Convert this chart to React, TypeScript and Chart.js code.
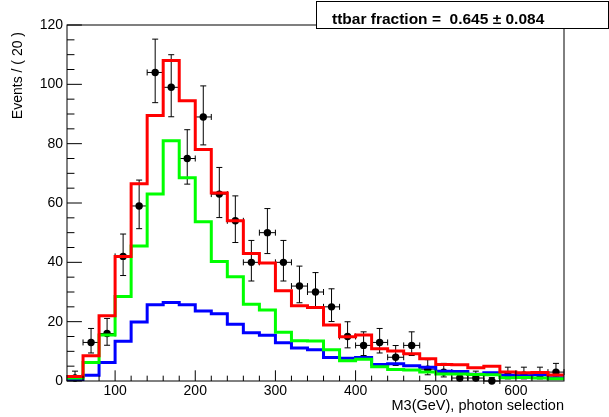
import React, { useEffect, useRef } from 'react';
import { Chart, registerables } from 'chart.js';

Chart.register(...registerables);

// ---- data ----
const X_MIN = 40;
const X_MAX = 660;
const BIN_WIDTH = 20;
const BIN_CENTERS = [50, 70, 90, 110, 130, 150, 170, 190, 210, 230, 250, 270, 290, 310, 330, 350, 370, 390, 410, 430, 450, 470, 490, 510, 530, 550, 570, 590, 610, 630, 650];
const TOTAL = [1.5, 8.5, 22, 42, 66.5, 89.5, 108, 94.5, 78, 63.4, 54, 43, 39.8, 30.4, 25.4, 24.8, 18.9, 14.9, 15.5, 10.9, 10.1, 9.2, 7.5, 5.6, 5.5, 4.5, 5.0, 3.0, 2.8, 2.9, 2.0];
const TTBAR = [1.0, 6.2, 15.5, 28.5, 45.5, 63, 81, 68.5, 53.7, 40.3, 35.1, 25.9, 23.9, 16.4, 13.6, 13.5, 10.5, 6.8, 7.3, 4.8, 3.9, 3.7, 3.0, 2.4, 2.4, 2.2, 2.1, 1.1, 1.2, 1.0, 0.8];
const BKG = [0.4, 1.9, 6.2, 13.4, 19.9, 25.7, 26.5, 25.7, 23.6, 22.7, 19.1, 16.3, 15.4, 12.9, 11.1, 10.5, 7.9, 7.7, 7.9, 5.6, 5.8, 5.1, 4.6, 3.3, 3.2, 2.3, 2.8, 1.9, 1.8, 2.1, 1.1];
const DATA = [1, 13, 16, 42, 59, 104, 99, 75, 89, 63, 54, 40, 50, 40, 32, 30, 25, 15, 12, 13, 8, 12, 4, 3, 1, 1, 0, 2, 2, 2, 3];
const X_TICKS = [100, 200, 300, 400, 500, 600];
const Y_TICKS = [0, 20, 40, 60, 80, 100, 120];
const Y_MIN = 0;
const Y_MAX = 120;
const X_TITLE = 'M3(GeV), photon selection';
const Y_TITLE = 'Events / ( 20 )';
const FIT_LABEL = 'ttbar fraction =  0.645 \u00b1 0.084';

const FONT = "'Liberation Sans', Arial, Helvetica, sans-serif";

function poissonInterval(n: number): [number, number] {
  if (n <= 0) return [0, 1.15];
  const lo = n * Math.pow(1 - 1 / (9 * n) - 1 / (3 * Math.sqrt(n)), 3);
  const hi = n + 1 + Math.sqrt(n + 0.75);
  return [lo, hi];
}

function steps(vals: number[]) {
  const pts = vals.map((v, i) => ({ x: BIN_CENTERS[i] - BIN_WIDTH / 2, y: v }));
  pts.push({ x: BIN_CENTERS[BIN_CENTERS.length - 1] + BIN_WIDTH / 2, y: vals[vals.length - 1] });
  return pts;
}

const rootPlugin = {
  id: 'rootStyle',
  beforeDatasetDraw(chart: any, args: any) {
    if (args.index !== 3) return;
    const ctx = chart.ctx;
    const xs = chart.scales.x;
    const ys = chart.scales.y;
    ctx.save();
    ctx.strokeStyle = '#000';
    ctx.lineWidth = 1;
    const cap = 3;
    DATA.forEach((n, i) => {
      const c = BIN_CENTERS[i];
      const [lo, hi] = poissonInterval(n);
      const px = xs.getPixelForValue(c);
      const py = ys.getPixelForValue(n);
      const pl = xs.getPixelForValue(c - BIN_WIDTH / 2);
      const pr = xs.getPixelForValue(c + BIN_WIDTH / 2);
      const pt = ys.getPixelForValue(hi);
      const pb = ys.getPixelForValue(lo);
      ctx.beginPath();
      ctx.moveTo(px, pt); ctx.lineTo(px, pb);
      ctx.moveTo(px - cap, pt); ctx.lineTo(px + cap, pt);
      ctx.moveTo(px - cap, pb); ctx.lineTo(px + cap, pb);
      ctx.moveTo(pl, py); ctx.lineTo(pr, py);
      ctx.moveTo(pl, py - cap); ctx.lineTo(pl, py + cap);
      ctx.moveTo(pr, py - cap); ctx.lineTo(pr, py + cap);
      ctx.stroke();
    });
    ctx.restore();
  },
  afterDraw(chart: any) {
    const ctx = chart.ctx;
    const { left, right, top, bottom } = chart.chartArea;
    const xs = chart.scales.x;
    const ys = chart.scales.y;
    ctx.save();
    ctx.strokeStyle = '#000';
    ctx.lineWidth = 1;
    // frame
    ctx.strokeRect(Math.round(left), Math.round(top), Math.round(right - left), Math.round(bottom - top));
    // y ticks
    const yMajor = 0.03 * (right - left);
    ctx.beginPath();
    for (let v = Y_MIN; v <= Y_MAX; v += 5) {
      const p = ys.getPixelForValue(v);
      const len = Y_TICKS.includes(v) ? yMajor : yMajor / 2;
      ctx.moveTo(left, p); ctx.lineTo(left + len, p);
    }
    // x ticks
    const xMajor = 0.03 * (bottom - top);
    for (let v = X_MIN + BIN_WIDTH; v < X_MAX; v += 20) {
      const p = xs.getPixelForValue(v);
      const len = X_TICKS.includes(v) ? xMajor : xMajor / 2;
      ctx.moveTo(p, bottom); ctx.lineTo(p, bottom - len);
    }
    ctx.stroke();
    // y title
    ctx.save();
    ctx.translate(18, top + 7);
    ctx.rotate(-Math.PI / 2);
    ctx.font = `14px ${FONT}`;
    ctx.fillStyle = '#000';
    ctx.textAlign = 'right';
    ctx.textBaseline = 'middle';
    ctx.fillText(Y_TITLE, 0, 0);
    ctx.restore();
    // fit result box
    ctx.fillStyle = '#fff';
    ctx.fillRect(316, 1, 292, 27);
    ctx.strokeRect(316.5, 1.5, 292, 27);
    ctx.fillStyle = '#000';
    ctx.font = `bold 15.5px ${FONT}`;
    ctx.textAlign = 'left';
    ctx.textBaseline = 'alphabetic';
    ctx.fillText(FIT_LABEL, 332, 24);
    ctx.restore();
  },
};

export default function App() {
  const ref = useRef<HTMLCanvasElement | null>(null);
  useEffect(() => {
    if (!ref.current) return;
    const lineDs = (label: string, vals: number[], color: string) => ({
      label,
      data: steps(vals),
      borderColor: color,
      backgroundColor: color,
      borderWidth: 3,
      stepped: true,
      pointRadius: 0,
      fill: false,
      borderJoinStyle: 'miter',
      borderCapStyle: 'butt',
    });
    const chart = new Chart(ref.current, {
      type: 'line',
      data: {
        datasets: [
          lineDs('total', TOTAL, '#ff0000') as any,
          lineDs('ttbar', TTBAR, '#00ff00') as any,
          lineDs('background', BKG, '#0000ff') as any,
          {
            label: 'data',
            data: DATA.map((v, i) => ({ x: BIN_CENTERS[i], y: v })),
            showLine: false,
            pointRadius: 3.7,
            pointBackgroundColor: '#000',
            pointBorderWidth: 0,
            pointStyle: 'circle',
            clip: false,
          } as any,
        ],
      },
      options: {
        animation: false,
        responsive: false,
        maintainAspectRatio: false,
        layout: { padding: { top: 25, right: 45, bottom: 0, left: 0 } },
        plugins: { legend: { display: false }, tooltip: { enabled: false } },
        scales: {
          x: {
            type: 'linear',
            min: X_MIN,
            max: X_MAX,
            afterBuildTicks: (axis: any) => { axis.ticks = X_TICKS.map((v) => ({ value: v })); },
            afterFit: (s: any) => { s.height = 36; },
            grid: { display: false, drawTicks: false },
            border: { display: false },
            ticks: { color: '#000', font: { family: FONT, size: 14 }, padding: 2, maxRotation: 0 },
            title: { display: true, text: X_TITLE, align: 'end', color: '#000', font: { family: FONT, size: 14.5 }, padding: { top: 0, bottom: 2 } },
          },
          y: {
            type: 'linear',
            min: Y_MIN,
            max: Y_MAX,
            afterBuildTicks: (axis: any) => { axis.ticks = Y_TICKS.map((v) => ({ value: v })); },
            afterFit: (s: any) => { s.width = 67; },
            grid: { display: false, drawTicks: false },
            border: { display: false },
            ticks: { color: '#000', font: { family: FONT, size: 14 }, padding: 4 },
          },
        },
      },
      plugins: [rootPlugin],
    });
    return () => chart.destroy();
  }, []);
  return (
    <div style={{ position: 'absolute', left: 0, top: 0, width: 609, height: 417, background: '#fff' }}>
      <canvas ref={ref} width={609} height={417} style={{ display: 'block' }} />
    </div>
  );
}
